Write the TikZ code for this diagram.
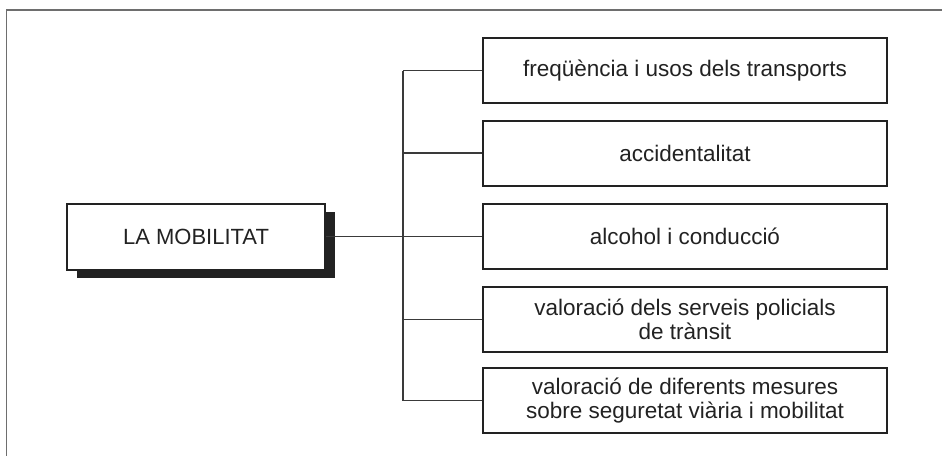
\documentclass[tikz,border=0pt]{standalone}
\usepackage{fontspec}
\setmainfont{Liberation Sans}
\usetikzlibrary{shadows}
\definecolor{ink}{HTML}{222222}
\definecolor{framec}{HTML}{6E6E6E}
\definecolor{connc}{HTML}{3A3A3A}
\begin{document}
\begin{tikzpicture}[x=1pt,y=-1pt,
  childbox/.style={draw=ink,line width=2pt,fill=white,minimum width=404pt,minimum height=65pt,inner sep=0pt,align=center,text=ink,font=\fontsize{22.5}{23.5}\selectfont},
  mainbox/.style={draw=ink,line width=2pt,fill=white,minimum width=258pt,minimum height=66pt,inner sep=0pt,text=ink,font=\fontsize{22}{23}\selectfont,
    general shadow={shadow xshift=10pt,shadow yshift=-8pt,fill=ink}},
  conn/.style={draw=connc,line width=1.3pt},
  framel/.style={draw=framec,line width=1.6pt}]
\useasboundingbox (0,0) rectangle (942,455);
\draw[framel] (6.5,460) -- (6.5,10) -- (950,10);
\node[mainbox] (main) at (196,236.5) {LA MOBILITAT};
\node[childbox] (b1) at (685,70.5) {freqüència i usos dels transports};
\node[childbox] (b2) at (685,153) {accidentalitat};
\node[childbox] (b3) at (685,236.5) {alcohol i conducció};
\node[childbox] (b4) at (685,319.5) {valoració dels serveis policials\\de trànsit};
\node[childbox] (b5) at (685,400.5) {valoració de diferents mesures\\sobre seguretat viària i mobilitat};
\coordinate (tr) at (403,0);
\draw[conn] (b1.west -| tr) -- (b5.west -| tr);
\foreach \i in {1,...,5} {\draw[conn] (b\i.west -| tr) -- (b\i.west);}
\draw[conn] (main.east) -- (b3.west);
\end{tikzpicture}
\end{document}
